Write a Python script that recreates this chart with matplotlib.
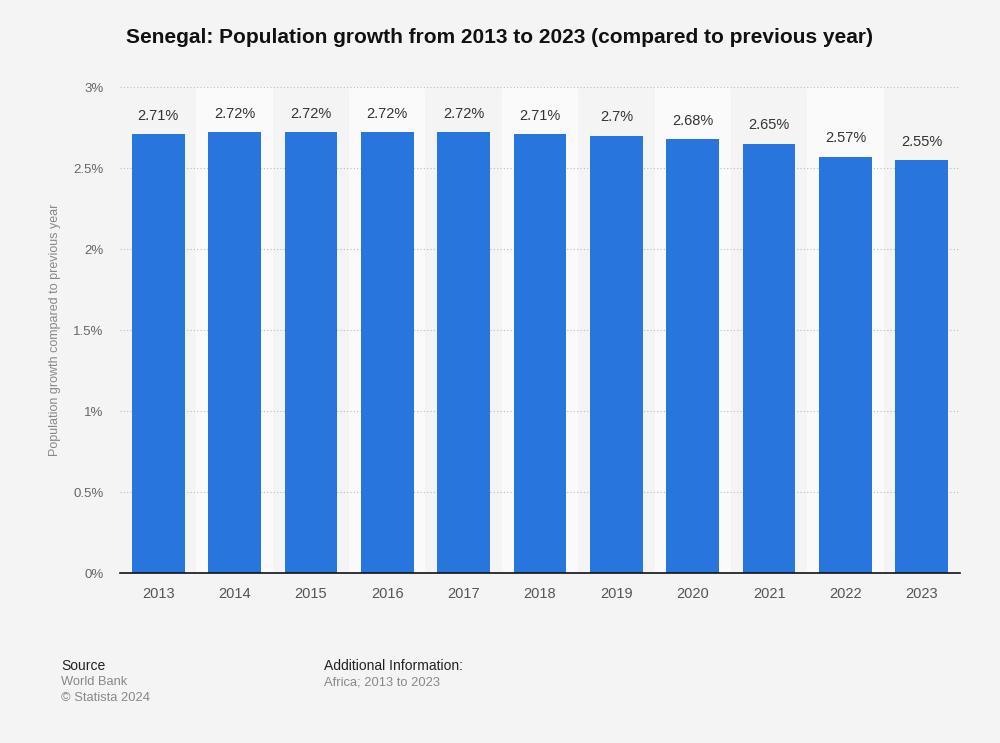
import matplotlib.pyplot as plt
import numpy as np

plt.rcParams['font.family'] = ['Liberation Sans', 'DejaVu Sans']

years = ['2013', '2014', '2015', '2016', '2017', '2018', '2019', '2020', '2021', '2022', '2023']
growth = [2.71, 2.72, 2.72, 2.72, 2.72, 2.71, 2.7, 2.68, 2.65, 2.57, 2.55]
labels = ['2.71%', '2.72%', '2.72%', '2.72%', '2.72%', '2.71%', '2.7%', '2.68%', '2.65%', '2.57%', '2.55%']
yticks = [0, 0.5, 1, 1.5, 2, 2.5, 3]
ytick_labels = ['0%', '0.5%', '1%', '1.5%', '2%', '2.5%', '3%']

fig = plt.figure(figsize=(10, 7.43), dpi=100, facecolor='#f4f4f4')
ax = fig.add_axes([0.12, 0.2288, 0.84, 0.654])
ax.set_facecolor('#f4f4f4')

x = np.arange(len(years))
# alternating light column bands
for i in x:
    if i % 2 == 1:
        ax.axvspan(i - 0.5, i + 0.5, ymin=0, ymax=1, color='#fafafa', zorder=0, lw=0)

ax.bar(x, growth, width=0.69, color='#2876dd', zorder=3)
for xi, v, lab in zip(x, growth, labels):
    ax.text(xi, v + 0.07, lab, ha='center', va='bottom', fontsize=10.5, color='#333333', zorder=4)

ax.set_xlim(-0.5, len(years) - 0.5)
ax.set_ylim(0, 3)
ax.set_xticks(x)
ax.set_xticklabels(years, fontsize=10.5, color='#555555')
ax.set_yticks(yticks)
ax.set_yticklabels(ytick_labels, fontsize=9.5, color='#666666')
ax.tick_params(axis='both', length=0)
ax.tick_params(axis='x', pad=10)
ax.tick_params(axis='y', pad=12)
ax.yaxis.grid(True, linestyle=(0, (1, 2)), color='#bbbbbb', linewidth=0.8, zorder=1)
for s in ['top', 'right', 'left']:
    ax.spines[s].set_visible(False)
ax.spines['bottom'].set_color('#111111')
ax.spines['bottom'].set_linewidth(1.2)
ax.spines['bottom'].set_zorder(5)

ax.set_ylabel('Population growth compared to previous year', fontsize=9, color='#888888')
ax.yaxis.set_label_coords(-0.07, 0.5)

fig.text(0.5, 0.949, 'Senegal: Population growth from 2013 to 2023 (compared to previous year)',
         ha='center', va='center', fontsize=15, fontweight='bold', color='#111111')

fig.text(0.061, 0.104, 'Source', fontsize=10, color='#222222', va='center')
fig.text(0.061, 0.082, 'World Bank', fontsize=9.3, color='#888888', va='center')
fig.text(0.061, 0.061, '\u00a9 Statista 2024', fontsize=9.3, color='#888888', va='center')
fig.text(0.324, 0.104, 'Additional Information:', fontsize=10, color='#222222', va='center')
fig.text(0.324, 0.082, 'Africa; 2013 to 2023', fontsize=9.3, color='#888888', va='center')

fig.savefig('out.png', dpi=100, facecolor=fig.get_facecolor())
